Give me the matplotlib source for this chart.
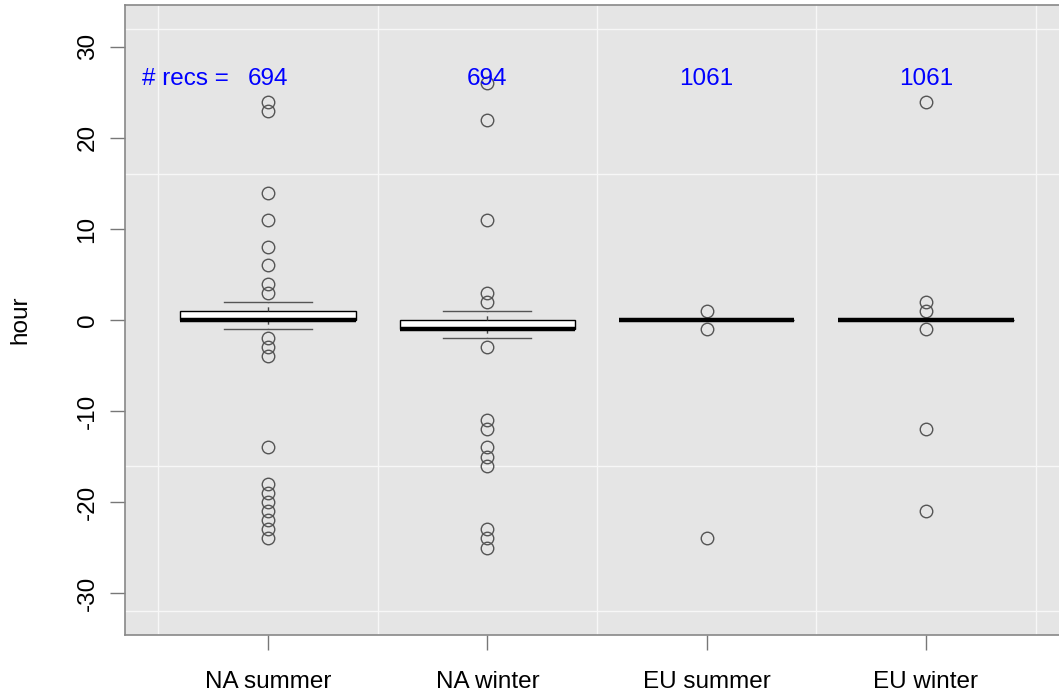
import matplotlib
matplotlib.use('Agg')
import matplotlib.pyplot as plt
import numpy as np

plt.rcParams['font.family'] = ['Liberation Sans', 'DejaVu Sans']

groups = ['NA summer', 'NA winter', 'EU summer', 'EU winter']
n_recs = [694, 694, 1061, 1061]

q1 = [0, -1, 0, 0]
med = [0, -1, 0, 0]
q3 = [1, 0, 0, 0]
whis_lo = [-1, -2, 0, 0]
whis_hi = [2, 1, 0, 0]

fliers_na_summer = [3, 4, 6, 8, 11, 14, 23, 24,
                    -2, -3, -4, -14, -18, -19, -20, -21, -22, -23, -24]
fliers_na_winter = [2, 3, 11, 22, 26,
                    -3, -11, -12, -14, -15, -16, -23, -24, -25]
fliers_eu_summer = [1, -1, -24]
fliers_eu_winter = [24, 2, 1, -1, -12, -21]
fliers = [fliers_na_summer, fliers_na_winter, fliers_eu_summer, fliers_eu_winter]

stats = []
for i, g in enumerate(groups):
    stats.append(dict(label=g, q1=q1[i], med=med[i], q3=q3[i],
                      whislo=whis_lo[i], whishi=whis_hi[i], fliers=fliers[i]))

FS = 17.5
W, H = 1059, 698
fig = plt.figure(figsize=(W / 100, H / 100), dpi=100)
# plot region in pixels: left 125, right 1069 (runs past the edge), top 5, bottom 635
ax = fig.add_axes([125 / W, 1 - 635 / H, (1069 - 125) / W, (635 - 5) / H])
ax.set_facecolor('#E5E5E5')

pos = np.arange(1, len(groups) + 1)
ax.bxp(stats, positions=pos, widths=0.8, patch_artist=True, manage_ticks=False,
       boxprops=dict(facecolor='white', edgecolor='black', linewidth=1),
       medianprops=dict(color='black', linewidth=3.2, solid_capstyle='butt'),
       whiskerprops=dict(color='#444444', linewidth=1, linestyle=(0, (3, 3))),
       capprops=dict(color='#555555', linewidth=1),
       capwidths=0.4,
       flierprops=dict(marker='o', markerfacecolor='none', markeredgecolor='#555555',
                       markersize=9, markeredgewidth=1))

ax.set_xlim(0.348, 4.652)
ax.set_ylim(-34.6, 34.6)

ax.set_xticks(pos)
ax.set_xticklabels(groups, fontsize=FS)
ax.set_yticks([-30, -20, -10, 0, 10, 20, 30])
ax.set_yticklabels(['-30', '-20', '-10', '0', '10', '20', '30'],
                   rotation=90, va='center', fontsize=FS)

# background grid sits between the boxes
ax.set_xticks(np.append(pos - 0.5, pos[-1] + 0.5), minor=True)
ax.set_yticks([-32, -16, 0, 16, 32], minor=True)
ax.grid(which='minor', color='#F7F7F7', linewidth=1)
ax.set_axisbelow(True)
ax.tick_params(which='minor', length=0)
ax.tick_params(which='major', length=11, width=1, color='#777777')
ax.tick_params(axis='y', pad=8)
ax.tick_params(axis='x', pad=15)

for side in ['left', 'bottom', 'top']:
    ax.spines[side].set_color('#888888')
    ax.spines[side].set_linewidth(1.2)
ax.spines['right'].set_visible(False)

ax.set_ylabel('hour', fontsize=FS, va='center')
ax.yaxis.set_label_coords((20 - 125) / (1069 - 125), 0.5)

# record counts above each box
for p, n in zip(pos, n_recs):
    ax.text(p, 25.8, str(n), color='#0000FF', fontsize=FS, ha='center', va='baseline')
ax.annotate('# recs =', xy=(pos[0], 25.8), xytext=(-28, 0), textcoords='offset points',
            color='#0000FF', fontsize=FS, ha='right', va='baseline')

fig.savefig('out.png', dpi=100)
